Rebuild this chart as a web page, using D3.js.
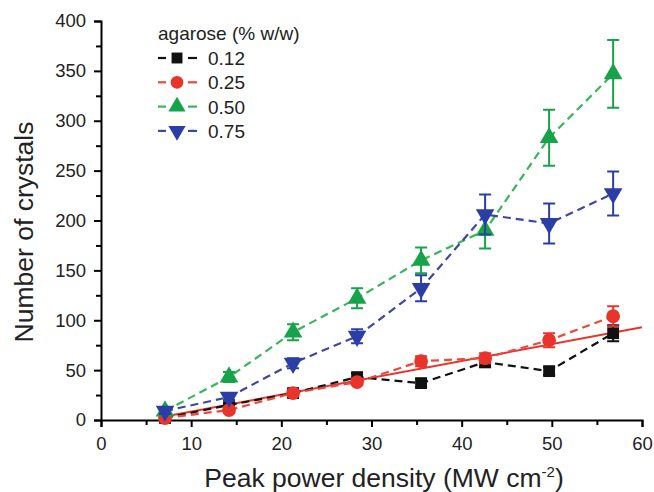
<!DOCTYPE html>
<html><head><meta charset="utf-8">
<script src="https://cdn.jsdelivr.net/npm/d3@7"></script>
<style>body{margin:0;background:#fff}svg{display:block}text{font-family:"Liberation Sans",Arial,sans-serif}</style>
</head><body><svg id="c" width="654" height="492"></svg>
<script>
const xs = [7.1, 14.2, 21.3, 28.4, 35.5, 42.6, 49.7, 56.8];
const labels = ["0.12", "0.25", "0.50", "0.75"];
const v012 = [2, 15, 27, 43, 37, 58, 49, 87];
const e012 = [2, 3, 3, 4, 4, 5, 4, 8];
const v025 = [2, 10, 27, 38, 59, 62, 80, 104];
const e025 = [2, 3, 3, 3, 5, 5, 7, 10];
const v050 = [9, 43, 88, 122, 160, 190, 283, 347];
const e050 = [3, 5, 8, 10, 13, 18, 28, 34];
const v075 = [9, 23, 57, 84, 132, 206, 197, 227];
const e075 = [3, 4, 5, 7, 13, 20, 20, 22];
const fitX = [6.5, 60];
const fitY = [2.5, 93];
const xTicks = [0, 10, 20, 30, 40, 50, 60];
const yTicks = [0, 50, 100, 150, 200, 250, 300, 350, 400];
const colors = ["#111111", "#e8352b", "#16a34a", "#2a3ea6"];
const lineColors = ["#111111", "#ea4a3a", "#3cb45c", "#3f47a0"];
const symbols = [d3.symbolSquare, d3.symbolCircle, d3.symbolTriangle, "down"];

const svg = d3.select("#c");
const x = d3.scaleLinear().domain([0, 60]).range([101, 642]);
const y = d3.scaleLinear().domain([0, 400]).range([420, 21]);

// axes
const xAxis = d3.axisBottom(x).tickValues(xTicks).tickSize(7).tickPadding(10);
const gx = svg.append("g").attr("transform", "translate(0,420)").call(xAxis);
gx.select(".domain").attr("stroke-width", 2);
gx.selectAll(".tick line").attr("stroke-width", 2);
gx.selectAll(".tick text").attr("font-size", 18.5).attr("fill", "#222");
const gxm = svg.append("g").attr("transform", "translate(0,420)")
  .call(d3.axisBottom(x).tickValues(d3.range(5, 60, 10)).tickSize(5).tickFormat(""));
gxm.select(".domain").remove();
gxm.selectAll(".tick line").attr("stroke-width", 2);

const yAxis = d3.axisLeft(y).tickValues(yTicks).tickSize(7).tickPadding(8);
const gy = svg.append("g").attr("transform", "translate(101,0)").call(yAxis);
gy.select(".domain").attr("stroke-width", 2);
gy.selectAll(".tick line").attr("stroke-width", 2);
gy.selectAll(".tick text").attr("font-size", 18.5).attr("fill", "#222");
const gym = svg.append("g").attr("transform", "translate(101,0)")
  .call(d3.axisLeft(y).tickValues(d3.range(25, 400, 50)).tickSize(5).tickFormat(""));
gym.select(".domain").remove();
gym.selectAll(".tick line").attr("stroke-width", 2);

// titles
svg.append("text").attr("x", 384).attr("y", 487).attr("text-anchor", "middle")
  .attr("font-size", 26.5).attr("fill", "#222")
  .html('Peak power density (MW cm<tspan dy="-10" font-size="15">-2</tspan><tspan dy="10">)</tspan>');
svg.append("text").attr("transform", "translate(33,232) rotate(-90)").attr("text-anchor", "middle")
  .attr("font-size", 26.5).attr("fill", "#222").text("Number of crystals");

// fit line
svg.append("line").attr("x1", x(fitX[0])).attr("y1", y(fitY[0])).attr("x2", x(fitX[1])).attr("y2", y(fitY[1]))
  .attr("stroke", "#e8352b").attr("stroke-width", 2);

const series = [[v012, e012], [v025, e025], [v050, e050], [v075, e075]];
function sym(i, size) {
  if (symbols[i] === "down") return d3.symbol(d3.symbolTriangle, size)() ;
  return d3.symbol(symbols[i], size)();
}
const sizes = [140, 150, 150, 150];
const line = d3.line().x(d => x(d[0])).y(d => y(d[1]));
series.forEach(([vals, errs], i) => {
  const g = svg.append("g");
  const pts = xs.map((xv, k) => [xv, vals[k], errs[k]]);
  g.append("path").attr("d", line(pts)).attr("fill", "none")
    .attr("stroke", lineColors[i]).attr("stroke-width", 2.2).attr("stroke-dasharray", "8,5");
  pts.forEach(p => {
    const cx = x(p[0]), t = y(p[1] + p[2]), b = y(p[1] - p[2]);
    g.append("path").attr("d", `M${cx},${t}V${b}M${cx-6},${t}H${cx+6}M${cx-6},${b}H${cx+6}`)
      .attr("stroke", colors[i]).attr("stroke-width", 2).attr("fill", "none");
    g.append("path").attr("d", sym(i, sizes[i]))
      .attr("transform", `translate(${cx},${y(p[1])})` + (symbols[i] === "down" ? " rotate(180)" : ""))
      .attr("fill", colors[i]);
  });
});

// legend
svg.append("text").attr("x", 158).attr("y", 40).attr("font-size", 19).attr("fill", "#222").text("agarose (% w/w)");
labels.forEach((lab, i) => {
  const yy = 58 + i * 24.3;
  const g = svg.append("g");
  g.append("line").attr("x1", 158).attr("x2", 166).attr("y1", yy).attr("y2", yy).attr("stroke", lineColors[i]).attr("stroke-width", 2.2);
  g.append("line").attr("x1", 188).attr("x2", 197).attr("y1", yy).attr("y2", yy).attr("stroke", lineColors[i]).attr("stroke-width", 2.2);
  g.append("path").attr("d", sym(i, sizes[i] * 0.85))
    .attr("transform", `translate(177,${yy})` + (symbols[i] === "down" ? " rotate(180)" : ""))
    .attr("fill", colors[i]);
  g.append("text").attr("x", 208).attr("y", yy + 7).attr("font-size", 19).attr("fill", "#222").text(lab);
});
</script></body></html>
